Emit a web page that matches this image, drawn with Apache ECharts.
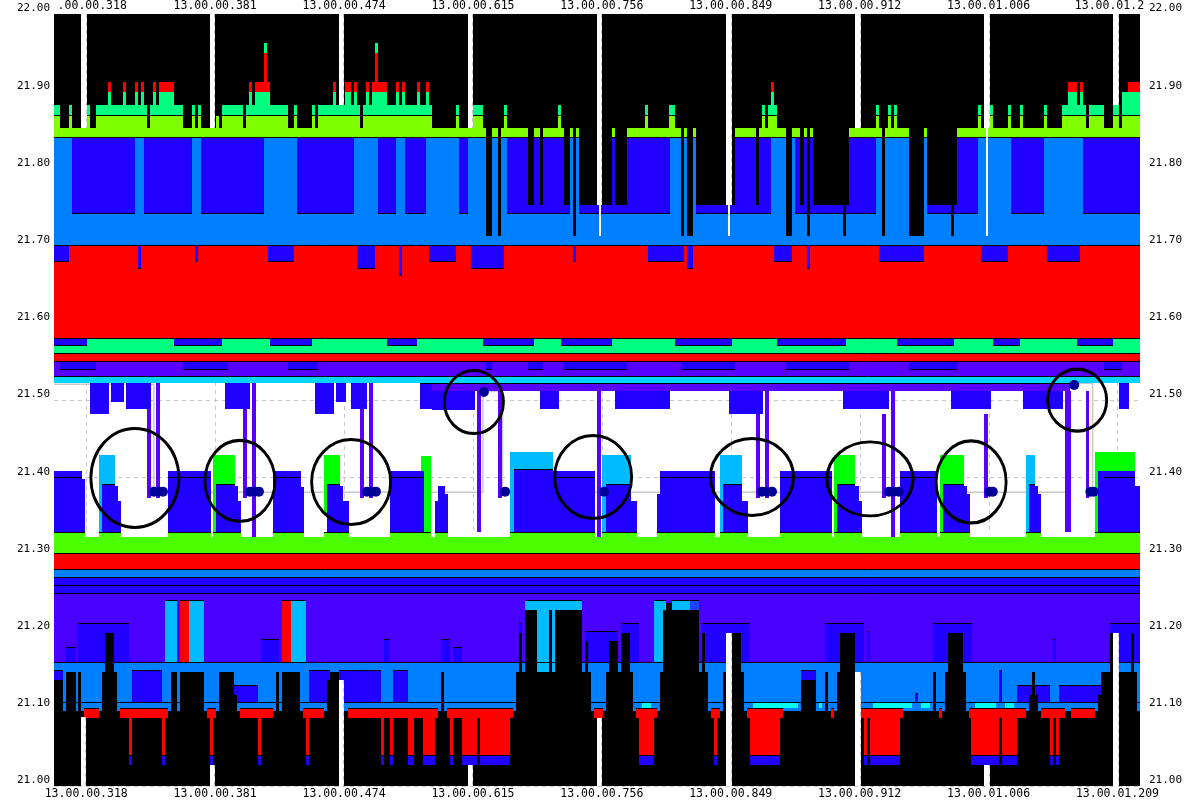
<!DOCTYPE html>
<html>
<head>
<meta charset="utf-8">
<title>Depth map 21.00 - 22.00</title>
<script src="https://cdn.jsdelivr.net/npm/echarts@6/dist/echarts.min.js"></script>
<style>
html, body { margin: 0; padding: 0; background: #fff; }
#depth { width: 1200px; height: 800px; }
</style>
</head>
<body>
<div id="depth"></div>
<script>
var font = 'DejaVu Sans Mono';

// time axis: sample index, labelled stamps
var tickAt = [10, 50, 90, 130, 170, 210, 250, 290, 330];
var tickLabels = ['13.00.00.318', '13.00.00.381', '13.00.00.474', '13.00.00.615', '13.00.00.756',
                  '13.00.00.849', '13.00.00.912', '13.00.01.006', '13.00.01.209'];
var topLabels = ['.00.00.318', '13.00.00.381', '13.00.00.474', '13.00.00.615', '13.00.00.756',
                 '13.00.00.849', '13.00.00.912', '13.00.01.006', '13.00.01.2'];
var lastSample = 337;
var priceMin = 21.00, priceMax = 22.00;

// bucket colours
var palette = {
    k: '#000000', lime: '#80ff00', spring: '#00ff80', red: '#ff0000', dodger: '#0080ff',
    blue: '#2000ff', blue2: '#2040ff', indigo: '#4800ff', violet: '#5800ff', cyan: '#00d4ff',
    sky: '#00bbff', green: '#00ff00', green2: '#4cff00', aqua: '#00ffee', gap: '#ffffff', none: '#ffffff'
};

// price bands across the whole window [low, high, bucket]
var bands = [
    [21.8523, 22.00, 'k'],
    [21.841, 21.8523, 'lime'],
    [21.7008, 21.841, 'dodger'],
    [21.580, 21.7008, 'red'],
    [21.5609, 21.580, 'spring'],
    [21.5501, 21.5609, 'red'],
    [21.5311, 21.5501, 'violet'],
    [21.5216, 21.5311, 'cyan'],
    [21.3014, 21.3294, 'green2'],
    [21.2811, 21.3014, 'red'],
    [21.2707, 21.2811, 'dodger'],
    [21.25, 21.2707, 'blue'],
    [21.1606, 21.25, 'indigo'],
    [21.0972, 21.1606, 'dodger'],
    [21.00, 21.0972, 'k']
];
var separators = [21.8692, 21.841, 21.7008, 21.580, 21.5609, 21.5501, 21.5311, 21.3294, 21.3014,
                  21.2811, 21.2707, 21.2604, 21.25, 21.1606, 21.1088];

// ask side above 21.85: [s0, s1, top]
var topBuckets = [[21.8523, 21.8692, 'lime'], [21.8692, 21.8994, 'spring'], [21.8994, 21.9499, 'red'], [21.9499, 21.9628, 'spring']];
var topSteps = [
    [0, 1.9, 21.882], [4.7, 5.6, 21.882], [10.2, 11.2, 21.882], [13, 28.9, 21.882], [16.8, 17.7, 21.9123],
    [21.4, 22.3, 21.9123], [25.1, 26.1, 21.9123], [27, 27.9, 21.9123],
    [29.8, 40, 21.882], [30.7, 31.7, 21.9123], [32.6, 37.2, 21.9123],
    [42.8, 43.8, 21.882], [44.7, 45.6, 21.882], [50.3, 51.2, 21.869], [52.1, 58.7, 21.882],
    [59.6, 72.6, 21.882], [60.5, 61.4, 21.9123], [62.4, 67, 21.9123], [65.2, 66.1, 21.9628],
    [74.5, 75.4, 21.882], [80.1, 81, 21.882], [81.9, 95, 21.882], [86.6, 87.5, 21.9123], [90.3, 92.2, 21.9123], [93.1, 94, 21.9123],
    [95.9, 117.3, 21.882], [96.8, 97.8, 21.9123], [98.7, 103.3, 21.9123], [99.6, 100.5, 21.9628], [106.1, 107.1, 21.9123],
    [108, 108.9, 21.9123], [112.6, 113.6, 21.9123], [115.4, 116.4, 21.9123],
    [124.7, 125.7, 21.882], [130, 133.1, 21.882], [139.6, 140.6, 21.882], [156.4, 157.3, 21.882], [183.4, 184.3, 21.882],
    [190.8, 192.7, 21.882], [219.7, 220.6, 21.882], [221.6, 224.4, 21.882], [222.5, 223.4, 21.9123],
    [255.1, 256, 21.882], [258.8, 259.7, 21.882], [260.7, 261.6, 21.882], [286.7, 287.7, 21.882], [290.5, 291.4, 21.882],
    [296.1, 297, 21.882], [299.8, 300.7, 21.882], [307.2, 308.1, 21.882],
    [312.8, 320.3, 21.882], [314.7, 317.5, 21.9123], [318.4, 319.3, 21.9123], [321.2, 325.8, 21.882],
    [328.6, 330.5, 21.882], [331.4, 337, 21.8994], [333.3, 337, 21.9123]
];
// empty columns cutting down from the sky: [s0, s1, bottom]
var deepBlack = [
    [134.1, 135.9, 21.7128], [137.8, 138.7, 21.7128], [147.1, 149, 21.7526], [150.8, 151.7, 21.7526],
    [158.3, 160.1, 21.7526], [161.1, 162, 21.7128], [162.9, 173.2, 21.7526], [174.1, 177.8, 21.7526],
    [194.6, 195.5, 21.7128], [196.4, 198.3, 21.7128], [199.2, 211.3, 21.7526], [217.8, 218.8, 21.7526],
    [227.2, 229, 21.7128], [231.5, 232.7, 21.7526], [233.7, 234.6, 21.7128], [235.5, 246.7, 21.7526],
    [244.8, 245.8, 21.7128], [256.9, 257.9, 21.7128], [265.3, 270, 21.7128], [270.9, 280.2, 21.7526],
    [278.4, 279.3, 21.7128]
];
// deep blue blocks 21.74 - 21.84: [s0, s1]
var blueDepth = [
    [5.6, 25.1], [27.9, 42.8], [45.6, 65.2], [75.4, 93.1], [100.5, 106.1], [108.9, 115.4], [125.7, 128.5],
    [140.6, 160.1], [162.9, 191.2], [199.2, 222.5], [230, 255.1], [270.9, 286.7], [297, 307.2], [319.3, 337]
];
// blue hanging into the red band: [s0, s1, low]
var redZoneBlue = [
    [0, 4.7, 21.6794], [26.1, 27, 21.6703], [43.8, 44.7, 21.6794], [66.4, 74.5, 21.6794], [94, 99.6, 21.6703],
    [107.1, 108, 21.66], [116.4, 124.7, 21.6794], [129.4, 139.6, 21.6703], [161.1, 162, 21.6794],
    [184.3, 195.5, 21.6794], [196.4, 198.3, 21.6703], [223.4, 229, 21.6794], [233.7, 234.6, 21.6703],
    [256, 270, 21.6794], [287.7, 296.1, 21.6794], [308.1, 318.4, 21.6794]
];
var springStripBlue = [
    [0, 10.2], [37.2, 52.1], [67, 80.1], [103.3, 112.6], [133.1, 149], [157.3, 173.2], [192.7, 210.4],
    [224.4, 245.8], [261.6, 279.3], [291.4, 299.8], [317.5, 328.6]
];
var violetStripBlue = [
    [1.9, 13], [40, 54], [72.6, 81.9], [134.1, 135.9], [147.1, 151.7], [158.3, 177.8], [194.6, 211.3],
    [227.2, 246.7], [265.3, 280.2], [325.8, 331.4]
];
var violetUnderCyan = [[113.6, 315.3, 21.5121, 21.5216]];

// spread area 21.33 - 21.52
var hangBlocks = [
    [11.2, 17.1, 21.4815, 21.5216], [17.7, 21.7, 21.4978, 21.5216], [22.3, 30.1, 21.4883, 21.5216],
    [53.1, 60.8, 21.4883, 21.5216], [81, 86.9, 21.4815, 21.5216], [87.5, 90.6, 21.4978, 21.5216],
    [92.2, 97.1, 21.4883, 21.5216], [113.6, 117.3, 21.4883, 21.5203], [117.3, 130.6, 21.487, 21.5121],
    [150.8, 156.7, 21.4883, 21.5121], [174.1, 191.2, 21.4883, 21.5121], [209.5, 220, 21.4815, 21.5121],
    [244.8, 259.1, 21.4883, 21.5121], [278.4, 290.8, 21.4883, 21.5121], [300.7, 313.1, 21.4883, 21.5121],
    [330.5, 333.6, 21.4883, 21.5216]
];
var restBars = [
    [14, 18.9, 21.3294, 21.4288, 'sky'], [49.3, 56.2, 21.3294, 21.4288, 'green'], [83.8, 84.7, 21.351, 21.4288, 'green'],
    [84.7, 88.8, 21.3294, 21.4288, 'green'], [113.9, 117, 21.3294, 21.4275, 'green'], [141.5, 154.9, 21.3294, 21.433, 'sky'],
    [170.1, 179.1, 21.3294, 21.4288, 'sky'], [206.7, 213.5, 21.3294, 21.4288, 'sky'], [242.1, 248.6, 21.3294, 21.4288, 'green'],
    [274.9, 282.4, 21.3294, 21.4288, 'green'], [301.6, 304.4, 21.3294, 21.4288, 'sky'], [323, 335.5, 21.3294, 21.433, 'green']
];
var restFloor = 21.3294;
var restBlocks = [
    [0, 8.7, 21.408], [8.7, 9.6, 21.398], [14.9, 18.9, 21.3912], [18.9, 19.9, 21.3886], [19.9, 20.8, 21.3692],
    [35.4, 48.7, 21.408], [50.3, 56.2, 21.3912], [56.2, 57.1, 21.3886], [57.1, 58, 21.3692], [68, 76.6, 21.408],
    [76.6, 77.6, 21.387], [84.7, 88.8, 21.3912], [88.8, 89.7, 21.3886], [89.7, 91.5, 21.3692], [104.3, 114.7, 21.408],
    [118.2, 119.2, 21.3692], [119.2, 121.3, 21.3886], [121.3, 122.3, 21.3782], [142.7, 154.9, 21.4106],
    [154.9, 167.9, 21.408], [171.3, 179.1, 21.3912], [179.1, 180.9, 21.3692], [187.1, 188.1, 21.3782],
    [188.1, 205.1, 21.408], [207.6, 213.5, 21.3912], [213.5, 215.4, 21.3692], [225.3, 241.4, 21.408],
    [243, 248.6, 21.3912], [248.6, 249.8, 21.3886], [249.8, 250.7, 21.3692], [262.5, 274, 21.408],
    [275.9, 282.4, 21.3912], [282.4, 283.3, 21.3886], [283.3, 284.3, 21.3782], [302.6, 304.4, 21.3912],
    [304.4, 305.3, 21.3886], [305.3, 306.3, 21.3782], [324, 335.5, 21.408], [335.5, 337, 21.3886]
];
var restRules = [
    [0, 8.7, 21.40], [35.4, 48.7, 21.40], [68, 76.6, 21.40], [104.3, 114.7, 21.40], [154.9, 167.9, 21.40],
    [188.1, 205.1, 21.40], [225.3, 241.4, 21.40], [262.5, 274, 21.40], [325.8, 335.5, 21.40],
    [14.9, 18.9, 21.3912], [50.3, 56.2, 21.3912], [84.7, 88.8, 21.3912], [142.7, 154.9, 21.4106],
    [171.3, 179.1, 21.3912], [207.6, 213.5, 21.3912], [243, 248.6, 21.3912], [275.9, 282.4, 21.3912],
    [302.6, 304.4, 21.3912]
];
var violetLines = [
    [28.9, 30.1, 21.3727, 21.4883], [31.7, 32.9, 21.3727, 21.5216], [58.7, 59.9, 21.3727, 21.4883],
    [61.4, 62.7, 21.3229, 21.5216], [95, 96.2, 21.3727, 21.4883], [97.8, 99, 21.3727, 21.5216],
    [131.3, 132.5, 21.3294, 21.5121], [137.8, 139, 21.3727, 21.5121], [168.5, 169.8, 21.3229, 21.5121],
    [217.8, 219.1, 21.3727, 21.4815], [220.6, 221.9, 21.3727, 21.5121], [256.9, 258.2, 21.3727, 21.4815],
    [259.7, 261, 21.3229, 21.5121], [288.6, 289.9, 21.3727, 21.4815], [313.7, 315.6, 21.3294, 21.5121],
    [320.3, 321.2, 21.3727, 21.5121]
];
var limeNotches = [
    [9.6, 14], [20.8, 35.4], [48.7, 49.3], [58, 68], [77.6, 83.8], [91.5, 104.3], [117, 118.2], [122.3, 141.5],
    [167.9, 170.1], [180.9, 187.1], [205.1, 206.7], [215.4, 225.3], [241.4, 242.1], [250.7, 262.5],
    [274, 274.9], [284.3, 301.6], [306.3, 323]
];

// bid side below 21.30
var lowBlue = [
    [3.7, 6.8, 21.1797], [7.4, 23.3, 21.2111], [64.2, 69.8, 21.19], [102.4, 104.3, 21.19], [120.1, 122.9, 21.19],
    [123.8, 126.6, 21.1797], [144.3, 145.2, 21.2111], [164.8, 175, 21.2004], [176, 181.5, 21.2111],
    [201.1, 216, 21.2111], [239.3, 251.4, 21.2111], [252.3, 253.2, 21.2008], [272.8, 284.9, 21.2111],
    [310, 310.9, 21.19], [327.7, 337, 21.2111]
];
var lowBars = [
    [34.4, 38.2, 21.1606, 21.2405, 'sky'], [39.1, 41.9, 21.1606, 21.2405, 'red'], [41.9, 46.5, 21.1606, 21.2405, 'sky'],
    [70.8, 73.5, 21.1606, 21.2405, 'red'], [73.5, 78.2, 21.1606, 21.2405, 'sky'], [146.2, 163.8, 21.1478, 21.2405, 'sky'],
    [186.2, 189.9, 21.1606, 21.2405, 'sky'], [191.8, 197.4, 21.228, 21.2405, 'sky'], [197.4, 200.2, 21.228, 21.2405, 'blue2']
];
var lowBlue2 = [
    [0, 2.8, 21.1503], [24.2, 33.5, 21.1503], [55.9, 63.3, 21.1308], [79.1, 85.6, 21.1503], [88.4, 101.5, 21.1503],
    [105.2, 109.9, 21.1503], [231.8, 236.5, 21.1503], [267.2, 268.1, 21.1205], [293.2, 294.2, 21.1503],
    [298.8, 309.1, 21.1308], [311.9, 324.9, 21.1308]
];
var towers = [
    [0, 2.8, 21.1373], [3.7, 6.8, 21.1473], [7.4, 8.4, 21.1473], [14.9, 15.8, 21.1473], [15.8, 18.6, 21.1982],
    [18.6, 19.6, 21.1473], [36.3, 38.2, 21.1473], [39.1, 46.5, 21.1473], [51.2, 55.9, 21.1473], [55.9, 56.8, 21.1179],
    [68.9, 69.8, 21.1473], [70.8, 76.3, 21.1473], [84.7, 85.6, 21.1373], [85.6, 88.4, 21.1473],
    [120.1, 121, 21.1473], [143.4, 144.3, 21.1473], [144.3, 145.2, 21.1982], [145.2, 146.2, 21.1473],
    [146.2, 149.9, 21.228], [149.9, 153.6, 21.1473], [153.6, 154.5, 21.228], [154.5, 155.5, 21.1473],
    [155.5, 163.8, 21.228], [163.8, 164.8, 21.1473], [164.8, 165.7, 21.1878], [165.7, 166.6, 21.1473],
    [171.3, 172.2, 21.1473], [172.2, 175, 21.1878], [175, 176, 21.1473], [176, 178.7, 21.1982], [178.7, 179.7, 21.1473],
    [188.1, 189, 21.1473], [189, 189.9, 21.228], [189.9, 191.8, 21.2374], [191.8, 200.2, 21.228], [200.2, 201.1, 21.1473],
    [201.1, 202, 21.1982], [202, 202.9, 21.1473], [207.6, 208.5, 21.1473], [210.4, 213.2, 21.1982], [213.2, 214.1, 21.1473],
    [231.8, 236.5, 21.1373], [239.3, 240.2, 21.1473], [243, 243.9, 21.1473], [243.9, 248.6, 21.1982],
    [272.8, 273.7, 21.1473], [276.5, 277.5, 21.1473], [277.5, 282.1, 21.1982], [282.1, 283, 21.1473],
    [302.6, 303.5, 21.1179], [303.5, 304.4, 21.1473], [304.4, 305.4, 21.1179], [324, 324.9, 21.1179],
    [324.9, 327.7, 21.1473], [327.7, 328.6, 21.1982], [330.5, 334.2, 21.1473], [334.2, 335.1, 21.1982], [335.1, 336.1, 21.1473]
];
var aqua = [[182.5, 185.3], [216.9, 230.9], [237.4, 238.3], [254.2, 266.3], [269.1, 271.8], [285.8, 292.3], [295.1, 297.9]];
var redCaps = [
    [9.3, 14], [20.5, 35.4], [47.5, 50.3], [57.7, 68], [77.3, 83.8], [91.2, 119.2], [122, 142.4], [167.6, 170.4],
    [180.6, 187.1], [203.9, 206.7], [215.1, 226.2], [241.1, 242.1], [250.4, 263.5], [274.6, 275.6], [284, 301.6],
    [306.3, 313.7], [315.6, 323]
];
var redStems = [
    [23.3, 24.2], [33.5, 34.4], [48.4, 49.3], [63.3, 64.2], [78.2, 79.1], [101.5, 102.4], [104.3, 105.2],
    [109.9, 111.7], [114.5, 118.2], [122.9, 123.8], [126.6, 131.3], [132.2, 141.5], [181.5, 186.2], [204.8, 205.7],
    [216, 225.3], [251.4, 252.3], [253.2, 262.5], [284.6, 293.2], [294.2, 298.8], [309.1, 310], [310.9, 311.9]
];

// empty time slots [s0, s1, low, high]
var gaps = [
    [8.4, 10.2, 21.8523, 22], [48.4, 50, 21.8523, 22], [88.4, 90, 21.882, 22], [128.5, 130, 21.8523, 22],
    [168.5, 170.1, 21.7526, 22], [169, 169.8, 21.7128, 21.7526], [208.5, 210.4, 21.7526, 22], [209, 209.8, 21.7128, 21.7526],
    [248.6, 250.4, 21.8523, 22], [288.6, 290.5, 21.8523, 22], [289.2, 289.9, 21.7128, 21.8523], [328.6, 330.5, 21.882, 22],
    [8.4, 10, 21, 21.0898], [48.4, 50, 21, 21.0272], [88.4, 90, 21, 21.1373], [128.5, 130, 21, 21.0272],
    [168.5, 170.1, 21, 21.0885], [208.5, 210.4, 21, 21.1986], [248.6, 250.4, 21, 21.1478], [288.6, 290.5, 21, 21.0272],
    [328.6, 330.5, 21, 21.1986]
];

// trades and marked spots
var dots = [
    [31, 21.3813], [32.4, 21.3813], [33.8, 21.3813], [60.8, 21.3813], [62.2, 21.3813], [63.6, 21.3813],
    [97.1, 21.3813], [98.5, 21.3813], [99.9, 21.3813], [133.4, 21.5104], [140, 21.3813], [170.7, 21.3813],
    [219.7, 21.3813], [221.2, 21.3813], [222.8, 21.3813], [259.1, 21.3813], [260.6, 21.3813], [262.2, 21.3813],
    [290.3, 21.3813], [291.3, 21.3813], [316.6, 21.5194], [321.6, 21.3813], [322.6, 21.3813]
];
var rings = [
    [25.1, 21.399], [57.7, 21.3951], [92.2, 21.3938], [130.3, 21.4974], [167.3, 21.4003],
    [216.6, 21.4003], [253.2, 21.3977], [284.6, 21.3938], [317.5, 21.4998]
];
var ringSizes = [[88, 99], [70, 81], [79, 85], [59, 63], [77, 83], [83, 77], [86, 74], [70, 82], [59, 62]];
var lastPrice = [
    [0, 21.5203], [31, 21.5203], [31, 21.3805], [133.1, 21.3805], [133.1, 21.511], [139.2, 21.511],
    [139.2, 21.3805], [315.3, 21.3805], [315.3, 21.5216], [322.3, 21.5216], [322.3, 21.3805], [337, 21.3805]
];

// ---- paint list, drawn in order ----
var paint = [];
function add(s0, s1, lo, hi, bucket, edge) {
    paint.push([s0, s1, lo, hi, bucket, edge || 0]);
}
tickAt.forEach(function (t) { add(t, t, priceMin, priceMax, 'grid'); });
bands.forEach(function (b) { add(0, lastSample, b[0], b[1], b[2]); });
blueDepth.forEach(function (r) { add(r[0], r[1], 21.741, 21.841, 'blue', -1); });
topSteps.forEach(function (r) {
    topBuckets.forEach(function (l) {
        if (r[2] > l[0]) add(r[0], r[1], l[0], Math.min(r[2], l[1]), l[2]);
    });
});
deepBlack.forEach(function (r) { add(r[0], r[1], r[2], 21.8523, 'k'); });
redZoneBlue.forEach(function (r) { add(r[0], r[1], r[2], 21.7008, 'blue', -1); });
springStripBlue.forEach(function (r) { add(r[0], r[1], 21.5703, 21.580, 'blue', -1); });
violetStripBlue.forEach(function (r) { add(r[0], r[1], 21.5393, 21.5501, 'blue', -1); });
violetUnderCyan.forEach(function (r) { add(r[0], r[1], r[2], r[3], 'violet', 1); });
hangBlocks.forEach(function (r) { add(r[0], r[1], r[2], r[3], 'blue'); });
restBars.forEach(function (r) { add(r[0], r[1], r[2], r[3], r[4]); });
restBlocks.forEach(function (r) { add(r[0], r[1], restFloor, r[2], 'blue'); });
lowBlue.forEach(function (r) { add(r[0], r[1], 21.1606, r[2], 'blue', 1); });
lowBars.forEach(function (r) { add(r[0], r[1], r[2], r[3], r[4], 1); });
lowBlue2.forEach(function (r) { add(r[0], r[1], 21.1088, r[2], 'blue', 1); });
towers.forEach(function (r) { add(r[0], r[1], priceMin, r[2], 'k'); });
aqua.forEach(function (r) { add(r[0], r[1], 21.1006, 21.1088, 'aqua'); });
redCaps.forEach(function (r) { add(r[0], r[1], 21.0885, 21.1006, 'red', 1); });
redStems.forEach(function (r) {
    add(r[0], r[1], 21.0402, 21.0885, 'red');
    add(r[0], r[1], 21.0272, 21.0402, 'blue', 1);
});
separators.forEach(function (p) { add(0, lastSample, p, p, 'rule'); });
restRules.forEach(function (r) { add(r[0], r[1], r[2], r[2], 'rule'); });
limeNotches.forEach(function (r) { add(r[0], r[1], 21.3229, 21.3294, 'none'); });
violetLines.forEach(function (r) { add(r[0], r[1], r[2], r[3], 'violet'); });
gaps.forEach(function (r) {
    var full = (r[3] === priceMax || r[2] === priceMin) ? 2 : 0;
    add(r[0], r[1], r[2], r[3], 'gap', full);
});

function renderPaint(params, api) {
    var p = paint[api.value(4)];
    var tl = api.coord([p[0], p[3]]);
    var br = api.coord([p[1], p[2]]);
    var x0 = Math.round(tl[0]), x1 = Math.round(br[0]);
    var y0 = Math.round(tl[1]), y1 = Math.round(br[1]);
    if (p[4] === 'grid') {
        return { type: 'line', shape: { x1: x0 + 0.5, y1: y0, x2: x0 + 0.5, y2: y1 },
                 style: { stroke: '#c8c8c8', lineWidth: 1, lineDash: [4, 4] } };
    }
    if (p[4] === 'rule') {
        return { type: 'line', shape: { x1: x0, y1: y0 + 0.5, x2: x1, y2: y0 + 0.5 },
                 style: { stroke: '#000', lineWidth: 1 } };
    }
    var kids = [{
        type: 'rect',
        shape: { x: x0, y: y0, width: Math.max(1, x1 - x0), height: Math.max(1, y1 - y0) },
        style: { fill: palette[p[4]] }
    }];
    if (p[5] === 1) {
        kids.push({ type: 'line', shape: { x1: x0, y1: y0 + 0.5, x2: x1, y2: y0 + 0.5 }, style: { stroke: '#000', lineWidth: 1 } });
    } else if (p[5] === -1) {
        kids.push({ type: 'line', shape: { x1: x0, y1: y1 - 0.5, x2: x1, y2: y1 - 0.5 }, style: { stroke: '#000', lineWidth: 1 } });
    } else if (p[5] === 2) {
        kids.push({ type: 'line', shape: { x1: x1 - 0.5, y1: y0, x2: x1 - 0.5, y2: y1 },
                    style: { stroke: '#c8c8c8', lineWidth: 1, lineDash: [4, 4] } });
    }
    return { type: 'group', children: kids };
}

var chart = echarts.init(document.getElementById('depth'));

var labelText = { color: '#000', fontFamily: font, fontSize: 11.5 };

var option = {
    animation: false,
    backgroundColor: '#ffffff',
    grid: { left: 54, right: 60, top: 14, bottom: 14, containLabel: false, outerBoundsMode: 'none' },
    xAxis: [
        {
            type: 'value', position: 'bottom', min: 0, max: lastSample,
            axisLine: { show: false },
            axisTick: { show: false, customValues: tickAt },
            splitLine: { show: false },
            axisLabel: {
                customValues: tickAt, margin: 2, color: '#000', fontFamily: font, fontSize: 11.5,
                formatter: function (v) {
                    var i = tickAt.indexOf(Math.round(v));
                    return i < 0 ? '' : tickLabels[i];
                }
            }
        },
        {
            type: 'value', position: 'top', min: 0, max: lastSample,
            axisLine: { show: false },
            axisTick: { show: false, customValues: tickAt },
            splitLine: { show: false },
            axisLabel: {
                customValues: tickAt, margin: 2, color: '#000', fontFamily: font, fontSize: 11.5,
                formatter: function (v) {
                    var i = tickAt.indexOf(Math.round(v));
                    if (i < 0) return '';
                    if (i === 0) return '{l|' + topLabels[i] + '}';
                    if (i === tickAt.length - 1) return '{r|' + topLabels[i] + '}';
                    return topLabels[i];
                },
                rich: {
                    l: { color: '#000', fontFamily: font, fontSize: 11.5, padding: [0, 0, 0, 12] },
                    r: { color: '#000', fontFamily: font, fontSize: 11.5, padding: [0, 16, 0, 0] }
                }
            }
        }
    ],
    yAxis: [
        {
            type: 'value', position: 'left', min: priceMin, max: priceMax, interval: 0.1,
            axisLine: { show: false },
            axisTick: { show: false },
            splitLine: { show: true, lineStyle: { color: '#c8c8c8', type: [4, 4], width: 1 } },
            axisLabel: {
                margin: 4, verticalAlign: 'bottom', color: '#000', fontFamily: font, fontSize: 11,
                formatter: function (v) { return v.toFixed(2); }
            }
        },
        {
            type: 'value', position: 'right', min: priceMin, max: priceMax, interval: 0.1,
            axisLine: { show: false },
            axisTick: { show: true, length: 3, lineStyle: { color: '#c8c8c8' } },
            splitLine: { show: false },
            axisLabel: {
                margin: 9, verticalAlign: 'bottom', color: '#000', fontFamily: font, fontSize: 11,
                formatter: function (v) { return v.toFixed(2); }
            }
        }
    ],
    series: [
        {
            name: 'last',
            type: 'line',
            z: 1,
            silent: true,
            symbol: 'none',
            data: lastPrice,
            lineStyle: { color: '#c8c8c8', width: 1.5 }
        },
        {
            name: 'depth',
            type: 'custom',
            z: 2,
            silent: true,
            clip: true,
            renderItem: renderPaint,
            encode: { x: [0, 1], y: [2, 3] },
            data: paint.map(function (p, i) { return [p[0], p[1], p[2], p[3], i]; })
        },
        {
            name: 'trades',
            type: 'scatter',
            z: 3,
            silent: true,
            symbol: 'circle',
            symbolSize: 10,
            itemStyle: { color: '#000099', opacity: 1 },
            data: dots
        },
        {
            name: 'marks',
            type: 'scatter',
            z: 4,
            silent: true,
            symbol: 'path://M0,50 A50,50 0 1,1 100,50 A50,50 0 1,1 0,50 Z',
            symbolSize: function (v, params) { return ringSizes[params.dataIndex]; },
            itemStyle: { color: 'rgba(0,0,0,0)', borderColor: '#000', borderWidth: 3, opacity: 1 },
            data: rings
        }
    ]
};

chart.setOption(option);
</script>
</body>
</html>
